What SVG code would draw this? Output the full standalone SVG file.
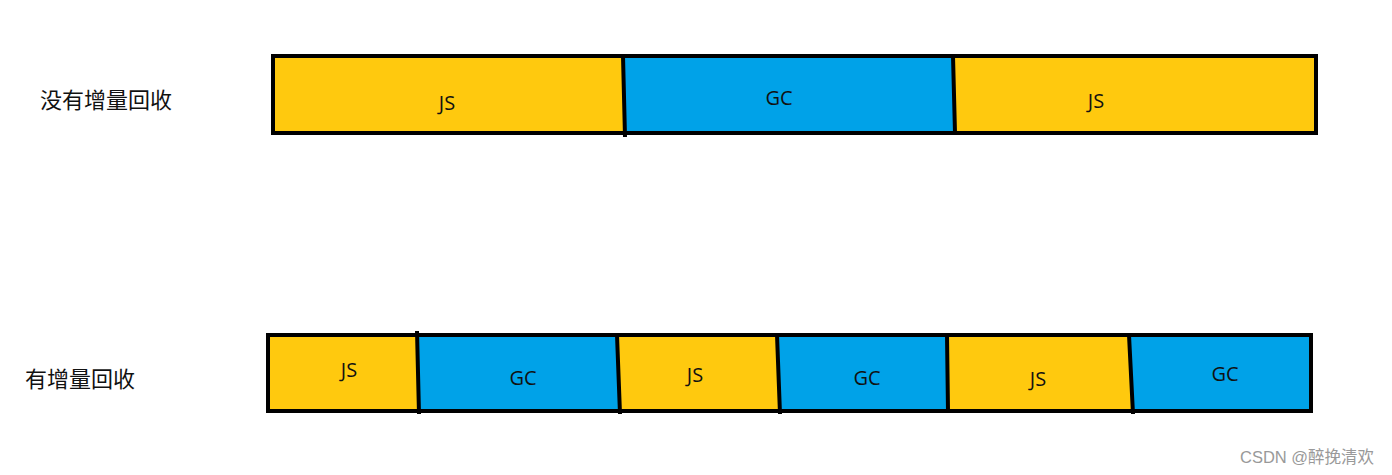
<svg xmlns="http://www.w3.org/2000/svg" width="1392" height="475" viewBox="0 0 1392 475">
<style>
.js{fill:#FFC90E}
.gc{fill:#00A2E8}
.frame{fill:none;stroke:#000;stroke-width:4}
.div{stroke:#000;stroke-width:4;fill:none}
.t{font-family:"Open Sans","Noto Sans CJK SC",sans-serif;font-size:20px;fill:#111;text-anchor:middle}
.lbl{font-family:"Noto Sans CJK SC",sans-serif;font-size:22px;fill:#111}
.wm{font-family:"Liberation Sans","Noto Sans CJK SC",sans-serif;font-size:16.5px;fill:#999}
</style>
<rect width="1392" height="475" fill="#fff"/>
<g id="label-top"><text class="lbl" x="40" y="108">没有增量回收</text></g>
<g id="label-bottom"><text class="lbl" x="25" y="387">有增量回收</text></g>

<g id="top-js1"><polygon class="js" points="273,56 623,56 625,133 273,133"/><text class="t" x="447" y="110">JS</text></g>
<g id="top-gc"><polygon class="gc" points="623,56 953,56 955,133 625,133"/><text class="t" x="779" y="105">GC</text></g>
<g id="top-js2"><polygon class="js" points="953,56 1316,56 1316,133 955,133"/><text class="t" x="1096" y="108">JS</text></g>

<g id="bot-js1"><polygon class="js" points="268,335 417,335 419,411 268,411"/><text class="t" x="349" y="377">JS</text></g>
<g id="bot-gc1"><polygon class="gc" points="417,335 617,335 620,411 419,411"/><text class="t" x="523" y="385">GC</text></g>
<g id="bot-js2"><polygon class="js" points="617,335 777,335 780,411 620,411"/><text class="t" x="695" y="382">JS</text></g>
<g id="bot-gc2"><polygon class="gc" points="777,335 947,335 948,411 780,411"/><text class="t" x="867" y="385">GC</text></g>
<g id="bot-js3"><polygon class="js" points="947,335 1129,335 1133,411 948,411"/><text class="t" x="1038" y="386">JS</text></g>
<g id="bot-gc3"><polygon class="gc" points="1129,335 1311,335 1311,411 1133,411"/><text class="t" x="1225" y="381">GC</text></g>

<g id="connectors">
<path class="div" d="M623,56 L625,137 M953,56 L955,133"/>
<path class="div" d="M417,331 L419,414 M617,335 L620,414 M777,335 L780,414 M947,335 L948,411 M1129,335 L1133,414"/>
<rect class="frame" x="273" y="56" width="1043" height="77"/>
<rect class="frame" x="268" y="335" width="1043" height="76"/>
</g>
<text class="wm" x="1240" y="463">CSDN @醉挽清欢</text>
</svg>
